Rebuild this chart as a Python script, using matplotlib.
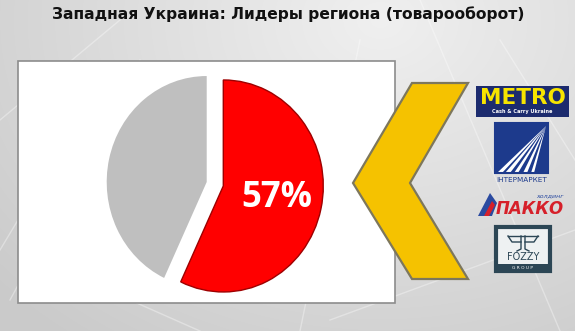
import numpy as np
import matplotlib
matplotlib.use("Agg")
import matplotlib.pyplot as plt
from matplotlib.patches import Rectangle, Polygon

# data
labels = ["Лидеры региона", "Остальные"]
shares = [57, 43]
slice_colors = ["#FF0000", "#BFBFBF"]
title = "Западная Украина: Лидеры региона (товарооборот)"
retailers = ["METRO", "ІНТЕРМАРКЕТ", "ПАККО", "FOZZY"]

W, H = 575, 331
fig = plt.figure(figsize=(W / 100, H / 100), dpi=100)

# background in pixel coords (y down)
ax = fig.add_axes([0, 0, 1, 1])
ax.set_xlim(0, W)
ax.set_ylim(H, 0)
ax.axis("off")

yy, xx = np.mgrid[0:H, 0:W]
d = np.sqrt(((xx - 380) / 420.0) ** 2 + ((yy - 20) / 330.0) ** 2)
bg = 0.94 - 0.12 * np.clip(d, 0, 1.2)
ax.imshow(np.dstack([bg, bg, bg]), extent=(0, W, H, 0), zorder=0, aspect="auto")
# faint light streaks
for x0, y0, x1, y1 in [(0, 120, 120, 20), (10, 300, 140, 60), (300, 331, 360, 40),
                       (420, 0, 560, 331), (500, 40, 575, 160), (330, 320, 575, 230),
                       (0, 250, 60, 150), (200, 331, 130, 300)]:
    ax.plot([x0, x1], [y0, y1], color="white", lw=1.0, alpha=0.35, zorder=1)

ax.text(288.5, 14, title, ha="center", va="center", fontsize=11.2,
        fontweight="bold", color="#111111", zorder=5)

# white chart box
ax.add_patch(Rectangle((18, 61), 377, 242, facecolor="white", edgecolor="#8c8c8c",
                       lw=1.2, zorder=2))

# chevron
chev = [(412, 83), (468, 83), (410, 183), (468, 279), (412, 279), (353, 183)]
ax.add_patch(Polygon(chev, closed=True, facecolor="#F5C200", edgecolor="#7d775c",
                     lw=1.6, zorder=3))

# METRO logo
ax.add_patch(Rectangle((476, 86), 93, 31, facecolor="#1c2b6e", edgecolor="none", zorder=3))
ax.text(522.5, 98, retailers[0], ha="center", va="center", fontsize=15.5, fontweight="heavy",
        color="#F7E400", family="DejaVu Sans", zorder=4)
ax.text(522.5, 112, "Cash & Carry Ukraine", ha="center", va="center", fontsize=3.6,
        fontweight="bold", color="white", zorder=4)

# Intermarket logo
ax.add_patch(Rectangle((495, 123), 53, 50, facecolor="#1d3a8c", edgecolor="none", zorder=3))
tip = (546, 126)
for bx, w in [(497, 5), (505, 5), (514, 4), (523, 4), (531, 3)]:
    ax.add_patch(Polygon([tip, (bx, 173), (bx + w, 173)], closed=True,
                         facecolor="white", edgecolor="none", zorder=4))
ax.add_patch(Rectangle((495, 123), 53, 50, facecolor="none", edgecolor="#1d3a8c",
                       lw=1.5, zorder=4))
ax.text(522, 179.5, retailers[1], ha="center", va="center", fontsize=5.2,
        color="#1d3a8c", zorder=4)

# PAKKO logo
ax.add_patch(Polygon([(478, 216), (490, 193), (497, 203), (492, 216)], closed=True,
                     facecolor="#2a4aa0", edgecolor="none", zorder=3))
ax.add_patch(Polygon([(484, 216), (492, 201), (495, 205), (489, 216)], closed=True,
                     facecolor="#d6202a", edgecolor="none", zorder=4))
ax.text(530, 208.5, retailers[2], ha="center", va="center", fontsize=12,
        fontweight="heavy", style="italic", color="#d6202a", zorder=4)
ax.text(550, 196, "холдинг", ha="center", va="center", fontsize=4.5, style="italic",
        color="#2a4aa0", zorder=4)

# FOZZY logo
ax.add_patch(Rectangle((496, 227), 54, 44, facecolor="#eef1f2", edgecolor="#2c4655",
                       lw=3, zorder=3))
ax.add_patch(Rectangle((496, 264), 54, 7, facecolor="#2c4655", edgecolor="none", zorder=4))
ax.plot([508, 538], [236, 236], color="#2c4655", lw=1, zorder=4)
ax.plot([521, 521, 517], [236, 249, 251], color="#2c4655", lw=1, zorder=4)
ax.plot([525, 525, 529], [236, 249, 251], color="#2c4655", lw=1, zorder=4)
ax.plot([508, 512, 521], [236, 242, 242], color="#2c4655", lw=1, zorder=4)
ax.plot([538, 534, 525], [236, 242, 242], color="#2c4655", lw=1, zorder=4)
ax.text(523, 257.5, retailers[3], ha="center", va="center", fontsize=7,
        color="#2c4655", zorder=5)
ax.text(523, 267.8, "G R O U P", ha="center", va="center", fontsize=3.2,
        color="white", zorder=5)

# pie, slightly stretched vertically like the original
cx, cy, rx, ry = 215, 184, 100, 106
pax = fig.add_axes([(cx - 1.25 * rx) / W, (H - cy - 1.25 * ry) / H,
                    2.5 * rx / W, 2.5 * ry / H])
wedges, _ = pax.pie(shares, colors=slice_colors, startangle=90, counterclock=False,
                    explode=[0.085, 0.085], radius=1.0)
wedges[0].set_edgecolor("#9e0000")
wedges[0].set_linewidth(1.0)
wedges[1].set_edgecolor("none")
pax.set_aspect("auto")
pax.set_xlim(-1.25, 1.25)
pax.set_ylim(-1.25, 1.25)
pax.axis("off")

pax.text((277 - cx) / rx, (cy - 198) / ry, f"{shares[0]}%", ha="center", va="center",
         fontsize=25, fontweight="bold", color="white", family=["Open Sans", "DejaVu Sans"])

fig.savefig("out.png", dpi=100)
